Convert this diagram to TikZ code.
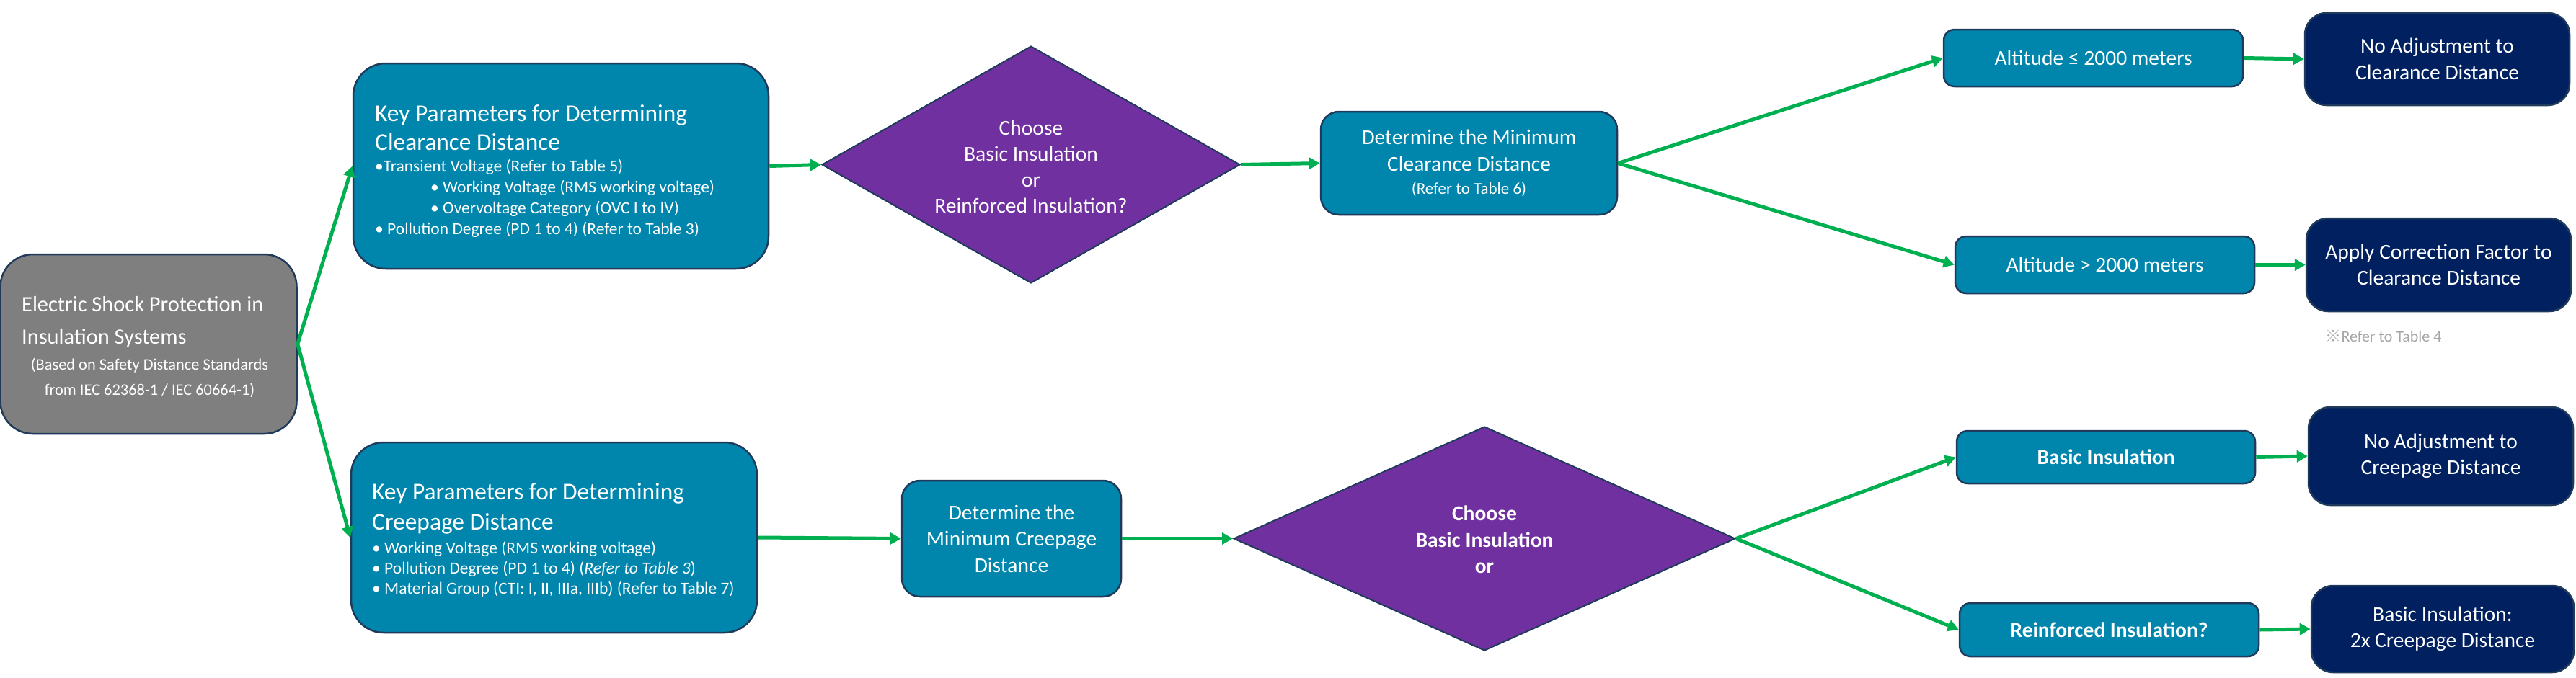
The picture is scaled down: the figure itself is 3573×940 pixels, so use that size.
\documentclass[tikz,border=0pt]{standalone}
\usepackage{fontspec}
\setmainfont{Carlito}
\newfontfamily\cjk{Noto Sans CJK JP}
\usetikzlibrary{shapes.geometric,arrows.meta}
\definecolor{cTeal}{HTML}{0086AD}
\definecolor{cPurple}{HTML}{7030A0}
\definecolor{cNavy}{HTML}{002060}
\definecolor{cGreen}{HTML}{00B050}
\definecolor{cBorder}{HTML}{1F3A5A}
\definecolor{cGray}{HTML}{7F7F7F}
\definecolor{cNote}{HTML}{A6A6A6}
\begin{document}
\begin{tikzpicture}[x=1pt,y=-1pt,
  boxbase/.style={draw=cBorder,line width=2.5pt,text=white,align=center,inner sep=0pt},
  graybox/.style={boxbase,fill=cGray,rounded corners=45pt},
  tealbox/.style={boxbase,fill=cTeal},
  navybox/.style={boxbase,fill=cNavy,rounded corners=30pt},
  dia/.style={diamond,draw=cBorder,line width=2pt,fill=cPurple,inner sep=0pt},
  txt/.style={text=white,inner sep=0pt},
  arr/.style={draw=cGreen,line width=5pt,-{Triangle[length=15pt,width=16pt]}},
  fmain/.style={font=\fontsize{29.5}{36.5}\selectfont},
  fmainb/.style={font=\fontsize{29.5}{36.5}\selectfont\bfseries}
]
\useasboundingbox (0,0) rectangle (3573,940);

% start box
\node[graybox,minimum width=411pt,minimum height=249pt] (start) at (206,477.5) {};
\node[txt,anchor=west,align=left,font=\fontsize{30.4}{45}\selectfont] (starttitle) at (30,447)
  {Electric Shock Protection in\\Insulation Systems};
\node[txt,align=center,font=\fontsize{22.4}{35}\selectfont] (startsub) at (207.5,524)
  {(Based on Safety Distance Standards\\from IEC 62368-1 / IEC 60664-1)};

% key parameters: clearance
\node[tealbox,rounded corners=45pt,minimum width=576pt,minimum height=285pt] (ckey) at (778,230.5) {};
\node[txt,anchor=west,align=left,font=\fontsize{33.4}{40.5}\selectfont] (ckeytitle) at (520,177)
  {Key Parameters for Determining\\Clearance Distance};
\node[txt,anchor=west,align=left,font=\fontsize{23.5}{29}\selectfont] (ckeylist) at (520,275)
  {•Transient Voltage (Refer to Table 5)\\
   \hspace*{77pt}• Working Voltage (RMS working voltage)\\
   \hspace*{77pt}• Overvoltage Category (OVC I to IV)\\
   • Pollution Degree (PD 1 to 4) (Refer to Table 3)};

% key parameters: creepage
\node[tealbox,rounded corners=45pt,minimum width=563pt,minimum height=264pt] (pkey) at (768.5,746) {};
\node[txt,anchor=west,align=left,font=\fontsize{33.4}{42}\selectfont] (pkeytitle) at (516,706)
  {Key Parameters for Determining\\Creepage Distance};
\node[txt,anchor=west,align=left,font=\fontsize{23.5}{28}\selectfont] (pkeylist) at (516,790)
  {• Working Voltage (RMS working voltage)\\
   • Pollution Degree (PD 1 to 4) (\textit{Refer to Table 3})\\
   • Material Group (CTI: I, II, IIIa, IIIb) (Refer to Table 7)};

% diamond 1
\node[dia,minimum width=580pt,minimum height=329pt] (d1) at (1430,228.5) {};
\node[txt,align=center,font=\fontsize{29.5}{36}\selectfont] (d1text) at (1430,231)
  {Choose\\Basic Insulation\\or\\Reinforced Insulation?};

% determine clearance
\node[tealbox,rounded corners=25pt,minimum width=411pt,minimum height=143pt,fmain] (cdet) at (2037.5,226.5)
  {Determine the Minimum\\Clearance Distance\\[-4pt]{\fontsize{23}{28}\selectfont (Refer to Table 6)}};

% creepage determine
\node[tealbox,rounded corners=25pt,minimum width=304pt,minimum height=161pt,fmain] (pdet) at (1403,747.5)
  {Determine the\\Minimum Creepage\\Distance};

% diamond 2
\node[dia,minimum width=696pt,minimum height=311pt] (d2) at (2059,747.5) {};
\node[txt,align=center,fmainb] (d2text) at (2059,749)
  {Choose\\Basic Insulation\\or};

% altitude boxes
\node[tealbox,rounded corners=15pt,minimum width=415pt,minimum height=79pt,fmain] (altle) at (2903.5,80.5)
  {Altitude ≤ 2000 meters};
\node[tealbox,rounded corners=15pt,minimum width=415pt,minimum height=79pt,fmain] (altgt) at (2919.5,367.5)
  {Altitude > 2000 meters};

% clearance results
\node[navybox,minimum width=367pt,minimum height=128pt,fmain] (noadjc) at (3380.5,82)
  {No Adjustment to\\Clearance Distance};
\node[navybox,minimum width=367pt,minimum height=129pt,fmain] (apply) at (3382.5,367.5)
  {Apply Correction Factor to\\Clearance Distance};
\node[text=cNote,inner sep=0pt,font=\fontsize{22}{26}\selectfont] (note) at (3306,466)
  {{\cjk ※}Refer to Table 4};

% insulation boxes
\node[tealbox,rounded corners=15pt,minimum width=414pt,minimum height=73pt,fmainb] (basic) at (2921,634.5)
  {Basic Insulation};
\node[tealbox,rounded corners=15pt,minimum width=415pt,minimum height=74pt,fmainb] (reinf) at (2925.5,874)
  {Reinforced Insulation?};

% creepage results
\node[navybox,minimum width=367pt,minimum height=136pt,fmain] (noadjp) at (3385.5,633)
  {No Adjustment to\\Creepage Distance};
\node[navybox,minimum width=364pt,minimum height=120pt,fmain] (twox) at (3388,873)
  {Basic Insulation:\\2x Creepage Distance};

% connectors
\draw[arr] (start.east) -- (ckey.west);
\draw[arr] (start.east) -- (pkey.west);
\draw[arr] (ckey.east) -- (d1.west);
\draw[arr] (d1.east) -- (cdet.west);
\draw[arr] (cdet.east) -- (altle.west);
\draw[arr] (cdet.east) -- (altgt.west);
\draw[arr] (altle.east) -- (noadjc.west);
\draw[arr] (altgt.east) -- (apply.west);
\draw[arr] (pkey.east) -- (pdet.west);
\draw[arr] (pdet.east) -- (d2.west);
\draw[arr] (d2.east) -- (basic.west);
\draw[arr] (d2.east) -- (reinf.west);
\draw[arr] (basic.east) -- (noadjp.west);
\draw[arr] (reinf.east) -- (twox.west);
\end{tikzpicture}
\end{document}
